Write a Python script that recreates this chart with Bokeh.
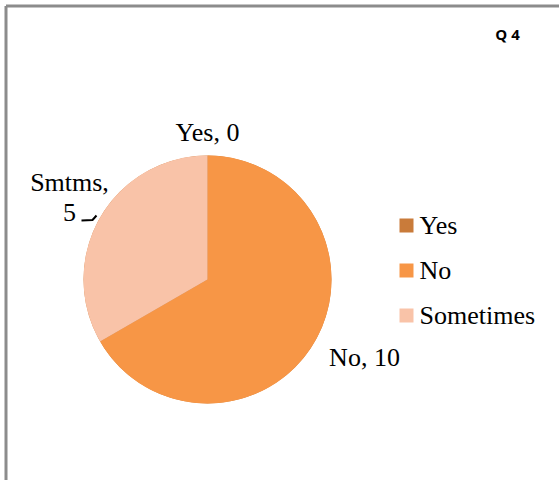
import math
from bokeh.plotting import figure
from bokeh.models import Range1d, ColumnDataSource
from bokeh.core.properties import value
from bokeh.embed import file_html
from bokeh.resources import INLINE

# ---- data ----
title = "Q 4"
categories = ["Yes", "No", "Sometimes"]
short_names = ["Yes", "No", "Smtms"]
counts = [0, 10, 5]
colors = ["#C97B3A", "#F79646", "#F9C3A8"]

# ---- layout (page pixel coordinates) ----
PAGE_H = 480
X0, Y0 = 0, 0
W, H = 559, 480

def py(y):
    return PAGE_H - y

p = figure(width=W, height=H, output_backend="svg", toolbar_location=None,
           x_range=Range1d(X0, X0 + W), y_range=Range1d(PAGE_H - (Y0 + H), PAGE_H - Y0),
           min_border=0)
p.xaxis.visible = False
p.yaxis.visible = False
p.grid.visible = False
p.outline_line_color = None
p.background_fill_color = "white"
p.border_fill_color = "white"

# chart border (left and top visible)
p.segment(x0=[5.5, 5.5], y0=[py(5.5), py(5.5)], x1=[5.5, X0 + W + 5], y1=[py(H + 20), py(5.5)],
          line_color="#8c8c8c", line_width=3)

# ---- pie ----
cx, cy, r = 207, py(279), 124
total = sum(counts)
starts, ends = [], []
a = math.pi / 2
for v in counts:
    sweep = 2 * math.pi * v / total
    starts.append(a)
    ends.append(a - sweep)
    a -= sweep
src = ColumnDataSource(dict(start=starts, end=ends, color=colors, cat=categories, n=counts))
p.wedge(x=cx, y=cy, radius=r, start_angle="start", end_angle="end", direction="clock",
        fill_color="color", line_color=None, source=src)

serif = value("Liberation Serif")
FS = "26px"

# data labels
p.text(x=[207], y=[py(132)], text=[f"{short_names[0]}, {counts[0]}"], text_font=serif,
       text_font_size=FS, text_align="center", text_baseline="middle", text_color="black")
p.text(x=[364], y=[py(357)], text=[f"{short_names[1]}, {counts[1]}"], text_font=serif,
       text_font_size=FS, text_align="center", text_baseline="middle", text_color="black")
p.text(x=[69], y=[py(182)], text=[f"{short_names[2]},"], text_font=serif,
       text_font_size=FS, text_align="center", text_baseline="middle", text_color="black")
p.text(x=[69], y=[py(212)], text=[f"{counts[2]}"], text_font=serif,
       text_font_size=FS, text_align="center", text_baseline="middle", text_color="black")
# leader line
p.line(x=[81, 92, 96], y=[py(220), py(219.5), py(215)], line_color="black", line_width=2)

# ---- legend ----
leg_y = [225, 270, 315]
p.scatter(x=[406] * 3, y=[py(v) for v in leg_y], marker="square", size=14,
          fill_color=colors, line_color=None)
p.text(x=[419] * 3, y=[py(v) for v in leg_y], text=categories, text_font=serif,
       text_font_size=FS, text_align="left", text_baseline="middle", text_color="black")

# ---- title ----
p.text(x=[507], y=[py(33)], text=[title], text_font=value("Open Sans"),
       text_font_style="bold", text_font_size="15px", text_align="center",
       text_baseline="middle", text_color="black")

open("out.html", "w").write(file_html(p, INLINE))
